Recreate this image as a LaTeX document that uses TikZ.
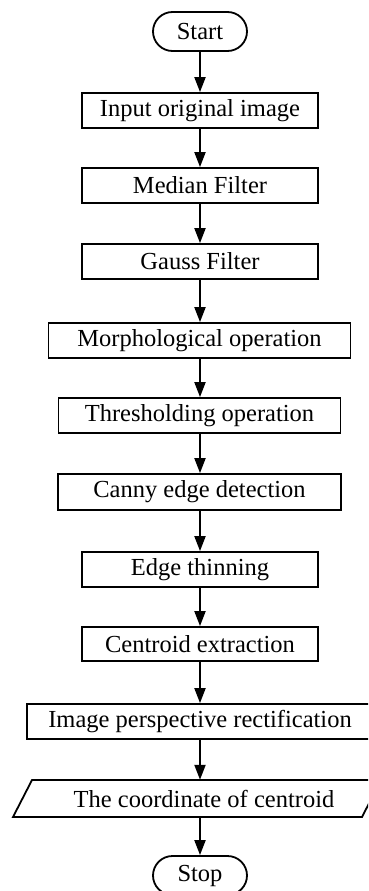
\documentclass[tikz,border=0pt]{standalone}
\usepackage{fontspec}
\setmainfont{Liberation Serif}
\usetikzlibrary{arrows.meta,calc}
\begin{document}
\begin{tikzpicture}[x=1pt,y=-1pt,
  every node/.style={font=\fontsize{24.5}{28}\selectfont, inner sep=0pt},
  stepbox/.style={draw, line width=1.8pt, minimum height=35pt},
  term/.style={draw, line width=1.8pt, minimum width=94pt, minimum height=39pt, rounded corners=19.5pt},
  arr/.style={line width=2pt, -{Triangle[width=11pt,length=15pt]}}]
\useasboundingbox (0,0) rectangle (368,891);
\clip (0,0) rectangle (368,891);
\node[term] (start) at (200,31.5) {Start};
\node[stepbox, minimum width=236pt] (input) at (200,110.5) {Input original image};
\node[stepbox, minimum width=236pt] (median) at (200,185.5) {Median Filter};
\node[stepbox, minimum width=236pt] (gauss) at (200,261.5) {Gauss Filter};
\node[stepbox, minimum width=302pt] (morph) at (199.5,340.5) {Morphological operation};
\node[stepbox, minimum width=282pt] (thresh) at (199.5,415.5) {Thresholding operation};
\node[stepbox, minimum width=283pt, minimum height=36pt] (canny) at (199.5,492) {Canny edge detection};
\node[stepbox, minimum width=236pt] (edge) at (200,569.5) {Edge thinning};
\node[stepbox, minimum width=236pt, minimum height=34pt] (centroid) at (200,644) {Centroid extraction};
\node[stepbox, minimum width=346pt] (persp) at (200,721.5) {Image perspective rectification};
\node[minimum width=300pt, minimum height=37pt] (coord) at (204,798.5) {The coordinate of centroid};
\draw[line width=1.8pt] ($(coord.center)+(-191,18.5)$) -- ($(coord.center)+(-172,-18.5)$)
  -- ($(coord.center)+(177,-18.5)$) -- ($(coord.center)+(158,18.5)$) -- cycle;
\node[term] (stop) at (200,875.5) {Stop};
\draw[arr] (start) -- (input);
\draw[arr] (input) -- (median);
\draw[arr] (median) -- (gauss);
\draw[arr] (gauss.south) -- (gauss.south |- morph.north);
\draw[arr] (morph.south -| gauss.south) -- (gauss.south |- thresh.north);
\draw[arr] (thresh.south -| gauss.south) -- (gauss.south |- canny.north);
\draw[arr] (canny.south -| edge.north) -- (edge.north);
\draw[arr] (edge) -- (centroid);
\draw[arr] (centroid) -- (persp);
\draw[arr] (persp.south) -- (persp.south |- coord.north);
\draw[arr] (coord.south -| stop.north) -- (stop.north);
\end{tikzpicture}
\end{document}
